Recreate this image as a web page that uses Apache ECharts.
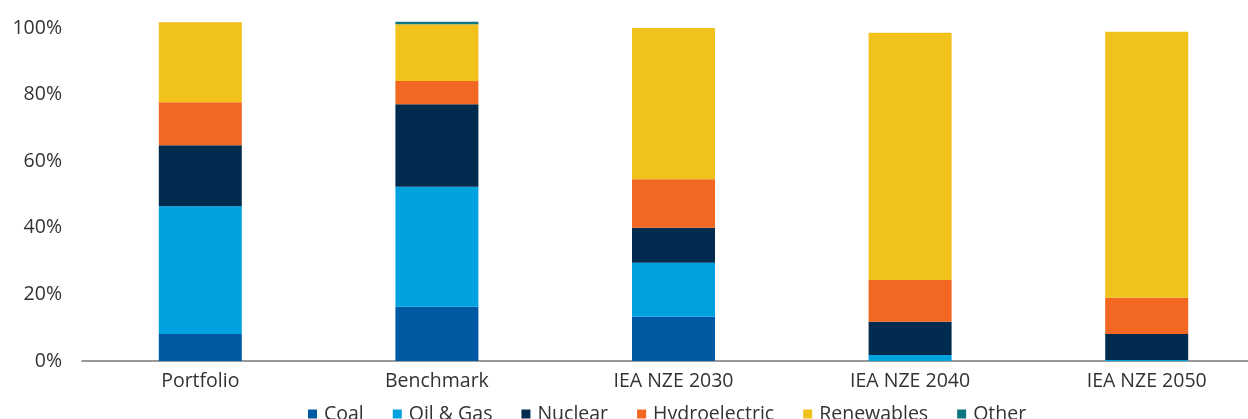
<!DOCTYPE html>
<html>
<head>
<meta charset="utf-8">
<script src="https://cdn.jsdelivr.net/npm/echarts@6/dist/echarts.min.js"></script>
<style>
html,body{margin:0;padding:0;background:#fff;overflow:hidden;}
#chart{width:1265px;height:419px;}
</style>
</head>
<body>
<div id="chart"></div>
<script>
const categories = ['Portfolio', 'Benchmark', 'IEA NZE 2030', 'IEA NZE 2040', 'IEA NZE 2050'];
const coal = [8.1, 16.3, 13.3, 0, 0];
const oilGas = [38.4, 36.0, 16.2, 1.8, 0.3];
const nuclear = [18.3, 24.8, 10.5, 10.0, 7.8];
const hydro = [12.9, 7.0, 14.6, 12.5, 10.9];
const renewables = [24.0, 17.0, 45.4, 74.3, 79.9];
const other = [0, 0.8, 0, 0, 0];
const yTicks = [0, 20, 40, 60, 80, 100];

const seriesDefs = [
  ['Coal', coal, '#0059A3'],
  ['Oil & Gas', oilGas, '#00A3E0'],
  ['Nuclear', nuclear, '#002B4F'],
  ['Hydroelectric', hydro, '#F26722'],
  ['Renewables', renewables, '#F1C11C'],
  ['Other', other, '#0E7681']
];

const font = "'Open Sans', 'Noto Sans', sans-serif";
const chart = echarts.init(document.getElementById('chart'), null, {renderer: 'canvas'});
chart.setOption({
  animation: false,
  textStyle: {fontFamily: font},
  grid: {left: 82, right: 0, top: 28, bottom: 58, containLabel: false},
  legend: {
    left: 303, top: 399,
    itemWidth: 9, itemHeight: 9, itemGap: 29,
    icon: 'rect',
    textStyle: {fontFamily: font, fontSize: 19.5, color: '#333', padding: [0, 0, 0, 2]},
    data: seriesDefs.map(d => d[0])
  },
  xAxis: {
    type: 'category',
    data: categories,
    axisLine: {lineStyle: {color: '#777', width: 1.5}},
    axisTick: {show: false},
    axisLabel: {fontFamily: font, fontSize: 19.5, color: '#333', margin: 10}
  },
  yAxis: {
    type: 'value',
    min: yTicks[0], max: yTicks[yTicks.length - 1], interval: 20,
    splitLine: {show: false},
    axisLine: {show: false},
    axisTick: {show: false},
    axisLabel: {fontFamily: font, fontSize: 19.5, color: '#333', margin: 20, formatter: '{value}%'}
  },
  series: seriesDefs.map(d => ({
    name: d[0], type: 'bar', stack: 'total', data: d[1],
    barWidth: 83, clip: false,
    itemStyle: {color: d[2]}
  }))
});
</script>
</body>
</html>
